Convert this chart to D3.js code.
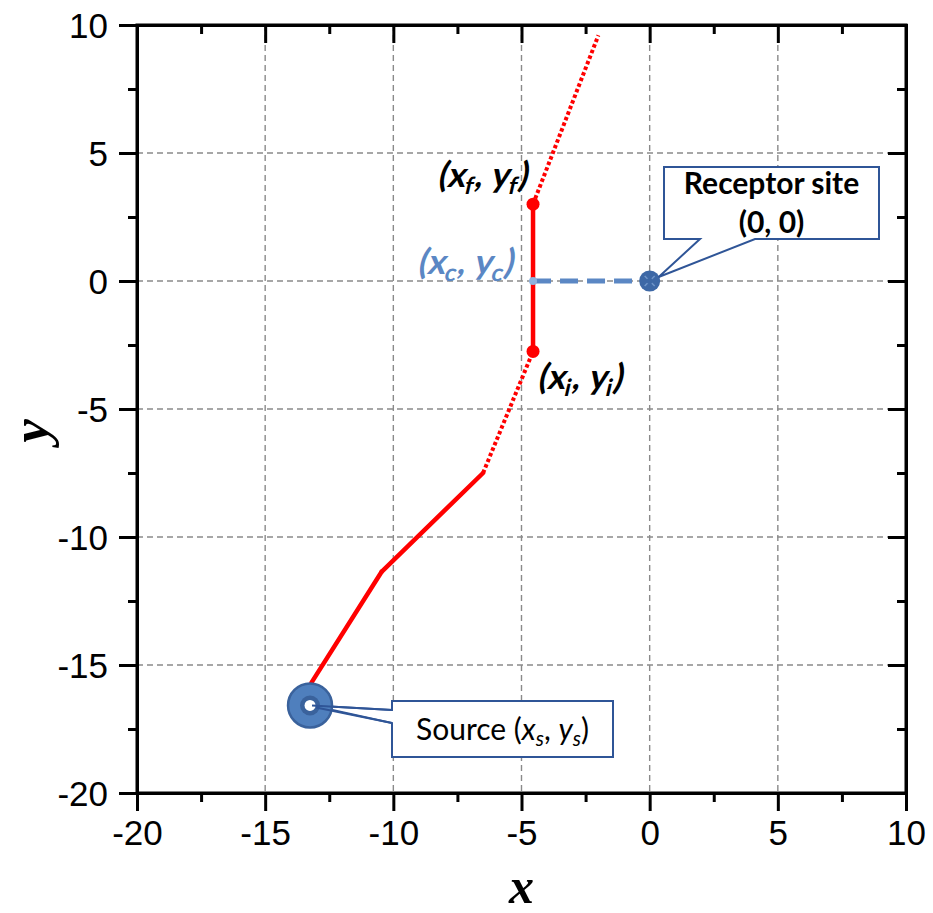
<!DOCTYPE html>
<html>
<head>
<meta charset="utf-8">
<script src="https://cdn.jsdelivr.net/npm/d3@7"></script>
<style>
  html, body { margin: 0; padding: 0; background: #fff; }
  svg { display: block; }
</style>
</head>
<body>
<svg id="chart" width="933" height="913"></svg>
<script>
// Axis ranges and tick values
const xDomain = [-20, 10];
const yDomain = [-20, 10];
const majorTicks = [-20, -15, -10, -5, 0, 5, 10];
const minorTicks = [-17.5, -12.5, -7.5, -2.5, 2.5, 7.5];
const gridTicks = [-15, -10, -5, 0, 5];

// Particle track, vertex by vertex, and the style of each segment between vertices
const trackX = [-13.2, -10.45, -6.5, -4.55, -4.55, -2.0];
const trackY = [-15.7, -11.35, -7.5, -2.75, 3.0, 9.6];
const trackStyle = ["solid", "solid", "dotted", "solid", "dotted"];

// Key sites
const sourceXY = [-13.25, -16.58];
const receptorXY = [0, 0];
const entryXY = [-4.55, -2.75];   // (x_i, y_i)
const exitXY = [-4.55, 3.0];      // (x_f, y_f)
const closestXY = [-4.55, 0];     // (x_c, y_c)

const svg = d3.select("#chart");
const pL = 137, pR = 906, pT = 25, pB = 793;

const x = d3.scaleLinear().domain(xDomain).range([pL, pR]);
const y = d3.scaleLinear().domain(yDomain).range([pB, pT]);

const RED = "#ff0000";
const BLUE = "#5b87c4";
const DARK = "#2f5597";

// Grid
const grid = svg.append("g").attr("stroke", "#8a8a8a").attr("stroke-width", 1.4)
  .attr("stroke-dasharray", "6 4");
grid.selectAll("line.v").data(gridTicks).join("line").attr("class", "v")
  .attr("x1", d => x(d)).attr("x2", d => x(d)).attr("y1", pT).attr("y2", pB);
grid.selectAll("line.h").data(gridTicks).join("line").attr("class", "h")
  .attr("y1", d => y(d)).attr("y2", d => y(d)).attr("x1", pL).attr("x2", pR);

// Axes: bottom/left ticks outward with labels, top/right ticks inward
function styleAxis(g) {
  g.selectAll("path.domain").attr("stroke", "#000").attr("stroke-width", 3);
  g.selectAll(".tick line").attr("stroke", "#000").attr("stroke-width", 3);
  g.selectAll(".tick text").attr("font-family", "'Liberation Sans', Arial, sans-serif")
    .attr("font-size", 35).attr("fill", "#000");
}
function addAxis(axisGen, transform, withLabels, tickLen, values) {
  const a = axisGen.tickValues(values).tickSizeOuter(0).tickSize(tickLen);
  if (!withLabels) a.tickFormat("");
  const g = svg.append("g").attr("transform", transform).call(a);
  styleAxis(g);
  return g;
}
const fmt = d => String(d);
const gxB = addAxis(d3.axisBottom(x).tickFormat(fmt).tickPadding(9), `translate(0,${pB})`, true, 18, majorTicks);
addAxis(d3.axisBottom(x), `translate(0,${pB})`, false, 9, minorTicks);
const gyL = addAxis(d3.axisLeft(y).tickFormat(fmt).tickPadding(11), `translate(${pL},0)`, true, 18, majorTicks);
addAxis(d3.axisLeft(y), `translate(${pL},0)`, false, 9, minorTicks);
addAxis(d3.axisBottom(x), `translate(0,${pT})`, false, 18, majorTicks.slice(1, -1));
addAxis(d3.axisBottom(x), `translate(0,${pT})`, false, 9, minorTicks);
addAxis(d3.axisLeft(y), `translate(${pR},0)`, false, 18, majorTicks.slice(1, -1));
addAxis(d3.axisLeft(y), `translate(${pR},0)`, false, 9, minorTicks);
gxB.selectAll(".tick text").attr("dy", "0.71em");
gyL.selectAll(".tick text").attr("dy", "0.36em");

// Frame so the corners meet cleanly
svg.append("rect").attr("x", pL).attr("y", pT).attr("width", pR - pL).attr("height", pB - pT)
  .attr("fill", "none").attr("stroke", "#000").attr("stroke-width", 3);

// Axis titles
svg.append("text").attr("x", (pL + pR) / 2).attr("y", 903).attr("text-anchor", "middle")
  .attr("font-family", "'Liberation Serif', 'Times New Roman', serif").attr("font-weight", "bold")
  .attr("font-style", "italic").attr("font-size", 50).text("x");
svg.append("text").attr("transform", `translate(48,${(pT + pB) / 2 + 22}) rotate(-90)`)
  .attr("text-anchor", "middle")
  .attr("font-family", "'Liberation Serif', 'Times New Roman', serif").attr("font-weight", "bold")
  .attr("font-style", "italic").attr("font-size", 53).text("y");

// Dashed link from closest approach to receptor
svg.append("line")
  .attr("x1", x(closestXY[0])).attr("y1", y(closestXY[1]))
  .attr("x2", x(receptorXY[0])).attr("y2", y(receptorXY[1]))
  .attr("stroke", BLUE).attr("stroke-width", 5).attr("stroke-dasharray", "18 9");

// Track segments
const segs = d3.range(trackStyle.length).map(i => ({
  x1: trackX[i], y1: trackY[i], x2: trackX[i + 1], y2: trackY[i + 1], style: trackStyle[i]
}));
svg.append("g").selectAll("line").data(segs).join("line")
  .attr("x1", d => x(d.x1)).attr("y1", d => y(d.y1))
  .attr("x2", d => x(d.x2)).attr("y2", d => y(d.y2))
  .attr("stroke", RED).attr("stroke-width", d => d.style === "dotted" ? 4 : 4.5)
  .attr("stroke-linecap", d => d.style === "dotted" ? "butt" : "round")
  .attr("stroke-dasharray", d => d.style === "dotted" ? "3.5 2.5" : null);

// Entry / exit markers
svg.append("g").selectAll("circle").data([entryXY, exitXY]).join("circle")
  .attr("cx", d => x(d[0])).attr("cy", d => y(d[1])).attr("r", 6.5).attr("fill", RED);
// Closest approach marker
svg.append("circle").attr("cx", x(closestXY[0])).attr("cy", y(closestXY[1])).attr("r", 4)
  .attr("fill", "#8fb2de");

// Receptor marker
const rc = svg.append("g").attr("transform", `translate(${x(receptorXY[0])},${y(receptorXY[1])})`);
rc.append("circle").attr("r", 10.5).attr("fill", "#3d68a6");
rc.append("path").attr("d", "M-5,-5L5,5M-5,5L5,-5").attr("stroke", "#6f95c9").attr("stroke-width", 1.5);
rc.append("circle").attr("r", 3).attr("fill", "#3d68a6");

// Callout boxes
function callout(pathD) {
  svg.append("path").attr("d", pathD).attr("fill", "#fff")
    .attr("stroke", DARK).attr("stroke-width", 2).attr("stroke-linejoin", "miter");
}
// Receptor callout: pointer from bottom edge to the receptor
const rTip = [x(receptorXY[0]) + 9, y(receptorXY[1]) - 4];
{
  const bx = 664, by = 167, bw = 215, bh = 72;
  callout(`M${bx},${by}H${bx + bw}V${by + bh}H${bx + 91}L${rTip[0]},${rTip[1]}L${bx + 36},${by + bh}H${bx}Z`);
}
// Source callout: pointer from left edge to the source
const sTip = [x(sourceXY[0]) + 2, y(sourceXY[1])];
{
  const bx = 392, by = 701, bw = 221, bh = 56;
  callout(`M${bx},${by}H${bx + bw}V${by + bh}H${bx}V${by + 22}L${sTip[0]},${sTip[1]}L${bx},${by + 9}Z`);
}

// Source marker (ring), drawn over the pointer tip
const sc = svg.append("g").attr("transform", `translate(${x(sourceXY[0])},${y(sourceXY[1])})`);
sc.append("circle").attr("r", 22).attr("fill", "#4f7fbd").attr("stroke", "#3a629c").attr("stroke-width", 2.5);
sc.append("circle").attr("r", 10).attr("fill", "#3a629c");
sc.append("circle").attr("r", 5.5).attr("fill", "#fff");
// pointer lines show across the ring
svg.append("path").attr("d", `M${sTip[0]},${sTip[1]}L392,710M${sTip[0] + 4},${sTip[1] + 2}L392,723`)
  .attr("stroke", DARK).attr("stroke-width", 2);

const FONT = "Lato, 'Open Sans', sans-serif";

// Callout texts
svg.append("text").attr("x", 771.5).attr("y", 194).attr("text-anchor", "middle")
  .attr("font-family", FONT).attr("font-weight", "bold").attr("font-size", 30).text("Receptor site");
svg.append("text").attr("x", 771.5).attr("y", 233).attr("text-anchor", "middle")
  .attr("font-family", FONT).attr("font-weight", "bold").attr("font-size", 30).text("(0, 0)");

// Coordinate label: "(x_k, y_k)"; slanted labels are sheared as a whole
function coordLabel(tx, ty, sub, opts) {
  const holder = opts.slant
    ? svg.append("g").attr("transform", `translate(${tx},${ty}) skewX(-13)`)
    : svg.append("g").attr("transform", `translate(${tx},${ty})`);
  const t = holder.append("text").attr("x", 0).attr("y", 0)
    .attr("font-family", FONT).attr("font-size", opts.size)
    .attr("font-weight", opts.weight).attr("fill", opts.color)
    .attr("text-anchor", opts.anchor || "start");
  const ital = opts.slant ? null : "italic";
  if (opts.prefix) t.append("tspan").text(opts.prefix);
  t.append("tspan").text("(");
  t.append("tspan").attr("font-style", ital).text("x");
  t.append("tspan").attr("font-style", ital).attr("font-size", opts.size * 0.68)
    .attr("dy", opts.size * 0.2).text(sub);
  t.append("tspan").attr("dy", -opts.size * 0.2).text(", ");
  t.append("tspan").attr("font-style", ital).text("y");
  t.append("tspan").attr("font-style", ital).attr("font-size", opts.size * 0.68)
    .attr("dy", opts.size * 0.2).text(sub);
  t.append("tspan").attr("dy", -opts.size * 0.2).text(")");
  return t;
}
coordLabel(502.5, 740, "s", { size: 30, weight: "normal", color: "#000", anchor: "middle", prefix: "Source " });
coordLabel(437, 187, "f", { size: 35, weight: "bold", color: "#000", slant: true });
coordLabel(417, 274, "c", { size: 35, weight: "bold", color: BLUE, slant: true });
coordLabel(537, 389, "i", { size: 35, weight: "bold", color: "#000", slant: true });
</script>
</body>
</html>
